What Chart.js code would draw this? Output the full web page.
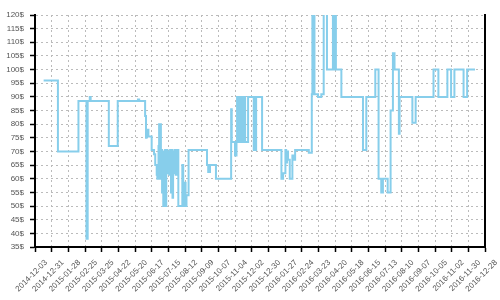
<!DOCTYPE html>
<html>
<head>
<meta charset="utf-8">
<script src="https://cdn.jsdelivr.net/npm/chart.js@4"></script>
<style>
  html, body { margin: 0; padding: 0; background: #fff; }
  canvas { display: block; }
</style>
</head>
<body>
<canvas id="myChart" width="500" height="300"></canvas>
<script>
// x axis tick labels, one every 28 days starting 2014-12-03
const tickLabels = [
    '2014-12-03', '2014-12-31', '2015-01-28', '2015-02-25', '2015-03-25', '2015-04-22',
    '2015-05-20', '2015-06-17', '2015-07-15', '2015-08-12', '2015-09-09', '2015-10-07',
    '2015-11-04', '2015-12-02', '2015-12-30', '2016-01-27', '2016-02-24', '2016-03-23',
    '2016-04-20', '2016-05-18', '2016-06-15', '2016-07-13', '2016-08-10', '2016-09-07',
    '2016-10-05', '2016-11-02', '2016-11-30', '2016-12-28',
];

// days since 2014-12-03 where the price changed
const days = [
    14.5, 38.5, 73, 86.5, 88.5, 92, 93.5, 124, 139, 173, 175,
    185, 186.5, 187.5, 190.5, 196, 200, 202, 204.5, 205.5, 207.5, 208.5, 209.5, 210.5,
    211.5, 212.5, 213.5, 214.5, 215.5, 216.5, 217.5, 218.5, 219.5, 220.5, 221.5, 222.5,
    224, 225.5, 227, 228.5, 229.5, 231, 232, 233.5, 235, 236.5, 238, 240.8, 247.5, 249,
    250.5, 253, 254.5, 258, 289, 291, 294, 304, 329.5, 330.5, 336, 338.5, 339.5, 341,
    342.5, 344, 345.5, 347, 348.5, 350, 351.5, 353, 358, 367.5, 369, 370, 371.5, 381.5,
    414, 416.8, 420.7, 422, 423.5, 425, 428, 432.4, 435, 437, 460, 465, 466, 467, 468,
    469.5, 475.5, 481, 485, 490.5, 500.5, 502, 503.5, 505.5, 514.7, 551, 556.6, 571.7,
    577.2, 581.7, 584.5, 592.5, 597.4, 601.3, 604, 611.3, 612.5, 634, 639.5, 669.5,
    677.7, 692.8, 699, 704.6, 720, 726, 739.3,
];

// price in $ from that day on
const prices = [
    96, 70, 88.5, 38, 88.5, 90, 88.5, 72, 88.5, 89, 88.5,
    83, 75, 78, 75.5, 70.5, 69, 65, 61.5, 60, 72, 80, 60, 80,
    62, 70.5, 55, 70, 50, 70, 61.5, 70.5, 50, 65, 70.5, 62,
    70, 61.5, 70.5, 55, 70.5, 53, 70, 62, 70.5, 61.5, 70.5, 50, 65, 50,
    58.5, 50, 54, 70.5, 65, 62.5, 65, 60, 85.5, 73.5, 68.5, 73.5, 90, 73.5,
    90, 73.5, 90, 73.5, 90, 73.5, 90, 73.5, 90, 70.5, 90, 70.5, 90, 70.5,
    60, 62, 70.5, 66, 70, 67, 60, 68.5, 67, 70.5, 69.5, 91, 125, 91, 125,
    91, 90, 91, 125, 100, 125, 100, 125, 100, 90, 70.5, 90, 100,
    60, 55, 60, 55, 85, 106, 100, 76.5, 90, 80.5, 90, 100,
    90, 100, 90, 100, 90, 100, 100,
];

const textFont = { family: 'Liberation Sans', size: 8 };

function createPriceChart() {
    const ctx = document.getElementById('myChart').getContext('2d');

    new Chart(ctx, {
        type: 'line',
        data: {
            datasets: [{
                data: days.map((d, i) => ({ x: d, y: prices[i] })),
                borderColor: '#87CEEB',
                borderWidth: 2,
                stepped: true,
                pointRadius: 0,
                fill: false,
            }],
        },
        options: {
            responsive: false,
            animation: false,
            layout: {
                padding: { left: 0, right: 15, top: 15, bottom: 0 },
            },
            plugins: {
                legend: { display: false },
                tooltip: { enabled: false },
            },
            scales: {
                x: {
                    type: 'linear',
                    min: 0,
                    max: 756,
                    afterFit: (scale) => { scale.height = 53; },
                    afterBuildTicks: (scale) => {
                        scale.ticks = tickLabels.map((t, i) => ({ value: i * 28 }));
                    },
                    ticks: {
                        callback: (value) => tickLabels[Math.round(value / 28)],
                        autoSkip: false,
                        maxRotation: 45,
                        minRotation: 45,
                        labelOffset: 11,
                        padding: 6,
                        color: '#555',
                        font: textFont,
                    },
                    grid: {
                        color: '#bbb',
                        tickColor: '#000',
                        tickLength: 5,
                        tickWidth: 1.5,
                    },
                    border: { color: '#000', width: 2, dash: [2, 3] },
                },
                y: {
                    min: 35,
                    max: 120,
                    afterFit: (scale) => { scale.width = 35; },
                    ticks: {
                        stepSize: 5,
                        callback: (value) => value + '$',
                        padding: 6,
                        color: '#555',
                        font: textFont,
                    },
                    grid: {
                        color: '#bbb',
                        tickColor: '#000',
                        tickLength: 5,
                        tickWidth: 1.5,
                    },
                    border: { color: '#000', width: 2, dash: [2, 3] },
                },
                y2: {
                    position: 'right',
                    min: 35,
                    max: 120,
                    afterFit: (scale) => { scale.width = 0; },
                    ticks: { display: false },
                    grid: { drawOnChartArea: false, drawTicks: false },
                    border: { color: '#000', width: 2 },
                },
            },
        },
    });
}

createPriceChart();
</script>
</body>
</html>
